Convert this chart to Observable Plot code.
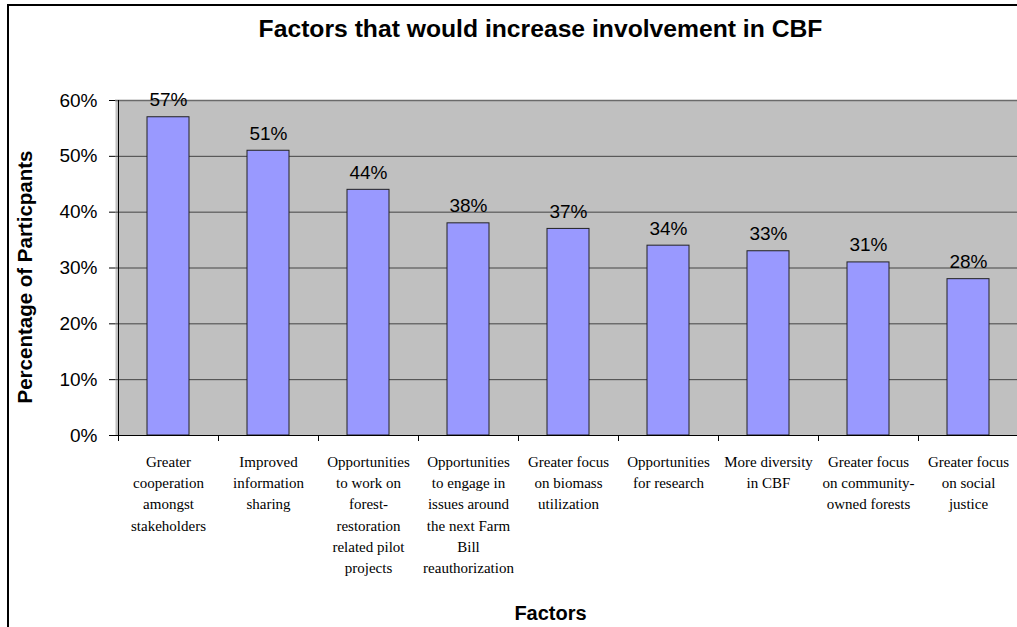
<!DOCTYPE html>
<html>
<head>
<meta charset="utf-8">
<script src="https://cdn.jsdelivr.net/npm/d3@7"></script>
<script src="https://cdn.jsdelivr.net/npm/@observablehq/plot@0.6"></script>
<style>
  html, body { margin: 0; padding: 0; background: #fff; overflow: hidden; }
  #chart { position: relative; width: 1017px; height: 627px; }
  #chart svg { display: block; }
  /* chart-area border (open on the right and bottom edges) */
  #chart .border {
    position: absolute; left: 7px; top: 4px; right: -20px; bottom: -20px;
    border-left: 2px solid #000; border-top: 2px solid #000; pointer-events: none;
  }
</style>
</head>
<body>
<div id="chart"><div class="border"></div></div>
<script>
const title = "Factors that would increase involvement in CBF";
const yLabel = "Percentage of Particpants";
const xLabel = "Factors";

const factors = [
  "Greater\ncooperation\namongst\nstakeholders",
  "Improved\ninformation\nsharing",
  "Opportunities\nto work on\nforest-\nrestoration\nrelated pilot\nprojects",
  "Opportunities\nto engage in\nissues around\nthe next Farm\nBill\nreauthorization",
  "Greater focus\non biomass\nutilization",
  "Opportunities\nfor research",
  "More diversity\nin CBF",
  "Greater focus\non community-\nowned forests",
  "Greater focus\non social\njustice"
];
const percents = [57, 51, 44, 38, 37, 34, 33, 31, 28];
const yTicks = [0, 10, 20, 30, 40, 50, 60];

const rows = factors.map((factor, i) => ({factor, pct: percents[i]}));

// Left axis line plus category separator ticks below the baseline
function axisLines(index, scales, values, dimensions) {
  const x = scales.x, y = scales.y;
  const step = x.step(), bw = x.bandwidth();
  const edges = factors.map(f => x(f) - (step - bw) / 2);
  edges.push(x(factors[factors.length - 1]) + bw + (step - bw) / 2);
  const y0 = y(0), yTop = y(yTicks[yTicks.length - 1]);
  const g = d3.create("svg:g").attr("stroke", "#000").attr("shape-rendering", "crispEdges");
  g.append("line").attr("x1", edges[0]).attr("x2", edges[0]).attr("y1", yTop).attr("y2", y0 + 6);
  g.selectAll(".tick").data(edges).join("line")
    .attr("x1", d => d).attr("x2", d => d).attr("y1", y0).attr("y2", y0 + 6);
  return g.node();
}

const chart = Plot.plot({
  width: 1017,
  height: 627,
  marginLeft: 115,
  marginRight: -4,
  marginTop: 100,
  marginBottom: 192,
  style: {
    fontFamily: "'Liberation Sans', Arial, sans-serif",
    fontSize: "19px",
    color: "#000",
    background: "transparent",
    overflow: "visible"
  },
  x: {domain: factors, paddingInner: 0.58, paddingOuter: 0.29, align: 0.5, axis: null},
  y: {domain: [0, 60], axis: null},
  marks: [
    Plot.frame({fill: "#c0c0c0", stroke: null}),
    Plot.gridY(yTicks.slice(1, -1), {stroke: "#444", strokeOpacity: 1, strokeWidth: 1}),
    Plot.ruleY([yTicks[yTicks.length - 1]], {stroke: "#6a6a6a", strokeWidth: 1.5}),
    Plot.barY(rows, {x: "factor", y: "pct", fill: "#9999ff", stroke: "#222", strokeWidth: 1}),
    Plot.ruleY([0], {stroke: "#000"}),
    axisLines,
    Plot.axisY(yTicks, {
      tickSize: 6, tickPadding: 12, tickFormat: d => d + "%",
      label: null, fontSize: 19, stroke: "#000"
    }),
    Plot.text(rows, {
      x: "factor", y: "pct", text: d => d.pct + "%",
      lineAnchor: "bottom", dy: -11, fontSize: 19, fill: "#000"
    }),
    Plot.text(factors, {
      x: d => d, text: d => d, frameAnchor: "bottom", lineAnchor: "top",
      dy: 16, lineHeight: 1.42, fontSize: 15,
      fontFamily: "'Liberation Serif', 'Times New Roman', serif", fill: "#000"
    }),
    Plot.text([title], {
      frameAnchor: "top", lineAnchor: "bottom", dx: -28, dy: -64,
      fontSize: 24.7, fontWeight: "bold", fill: "#000"
    }),
    Plot.text([xLabel], {
      frameAnchor: "bottom", lineAnchor: "bottom", dx: -18, dy: 184,
      fontSize: 20, fontWeight: "bold", fill: "#000"
    }),
    Plot.text([yLabel], {
      frameAnchor: "left", textAnchor: "middle", lineAnchor: "middle", rotate: -90,
      dx: -90, dy: 9, fontSize: 20.5, fontWeight: "bold", fill: "#000"
    })
  ]
});

document.getElementById("chart").prepend(chart);
</script>
</body>
</html>
